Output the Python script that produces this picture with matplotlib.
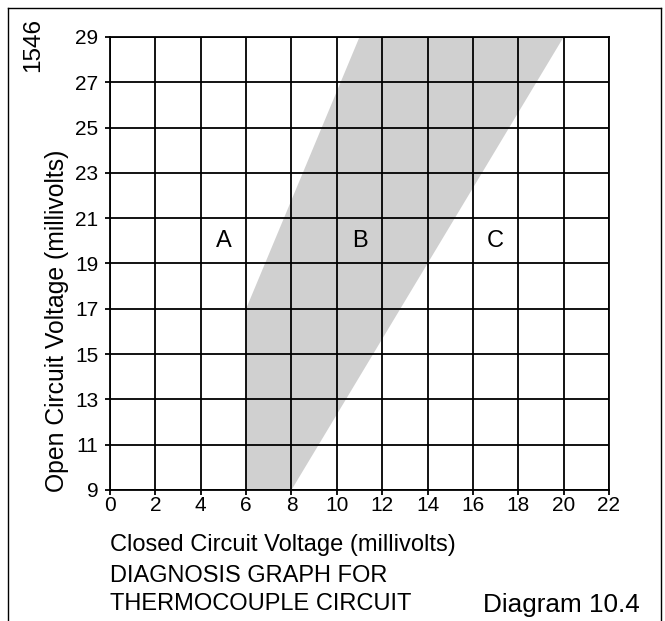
import matplotlib.pyplot as plt
from matplotlib.lines import Line2D

plt.rcParams['font.family'] = ['Liberation Sans', 'DejaVu Sans']

# acceptable zone (B) outline: closed-circuit vs open-circuit millivolts
zone_x = [6, 8, 20, 11, 6]
zone_y = [9, 9, 29, 29, 17]

region_labels = ['A', 'B', 'C']
region_x = [5, 11, 17]
region_y = [20, 20, 20]

x_ticks = list(range(0, 23, 2))
y_ticks = list(range(9, 30, 2))

W, H = 665, 621
fig = plt.figure(figsize=(W / 100, H / 100), dpi=100)
ax = fig.add_axes([110 / W, 1 - 490 / H, 499 / W, 453 / H])

ax.fill(zone_x, zone_y, color='#d0d0d0', lw=0, zorder=1)
for lab, x, y in zip(region_labels, region_x, region_y):
    ax.text(x, y, lab, ha='center', va='center', fontsize=17, zorder=3)

ax.set_xlim(0, 22)
ax.set_ylim(9, 29)
ax.set_xticks(x_ticks)
ax.set_yticks(y_ticks)
ax.grid(True, color='black', lw=1.3, zorder=2)
ax.set_axisbelow(False)
for s in ax.spines.values():
    s.set_linewidth(1.3)
ax.tick_params(direction='out', length=3.5, width=1.3, labelsize=15)
ax.tick_params(axis='x', pad=1)
ax.tick_params(axis='y', pad=5)


def ftext(x, y, s, **kw):
    fig.text(x / W, 1 - y / H, s, **kw)


ftext(57, 321, 'Open Circuit Voltage (millivolts)', rotation=90,
      ha='center', va='center', fontsize=17.8)
ftext(110, 551, 'Closed Circuit Voltage (millivolts)',
      ha='left', va='baseline', fontsize=17)
ftext(110, 582, 'DIAGNOSIS GRAPH FOR', ha='left', va='baseline', fontsize=17)
ftext(110, 610, 'THERMOCOUPLE CIRCUIT', ha='left', va='baseline', fontsize=17)
ftext(483, 612, 'Diagram 10.4', ha='left', va='baseline', fontsize=18.8)
ftext(33, 45, '1546', rotation=90, ha='center', va='center', fontsize=17.5)

# open-bottomed frame around the figure
frame_kw = dict(color='black', lw=1.0, transform=fig.transFigure)
fig.add_artist(Line2D([8 / W, 8 / W], [0, 1 - 8 / H], **frame_kw))
fig.add_artist(Line2D([661 / W, 661 / W], [0, 1 - 8 / H], **frame_kw))
fig.add_artist(Line2D([8 / W, 661 / W], [1 - 8 / H, 1 - 8 / H], **frame_kw))

fig.savefig('out.png', dpi=100)
